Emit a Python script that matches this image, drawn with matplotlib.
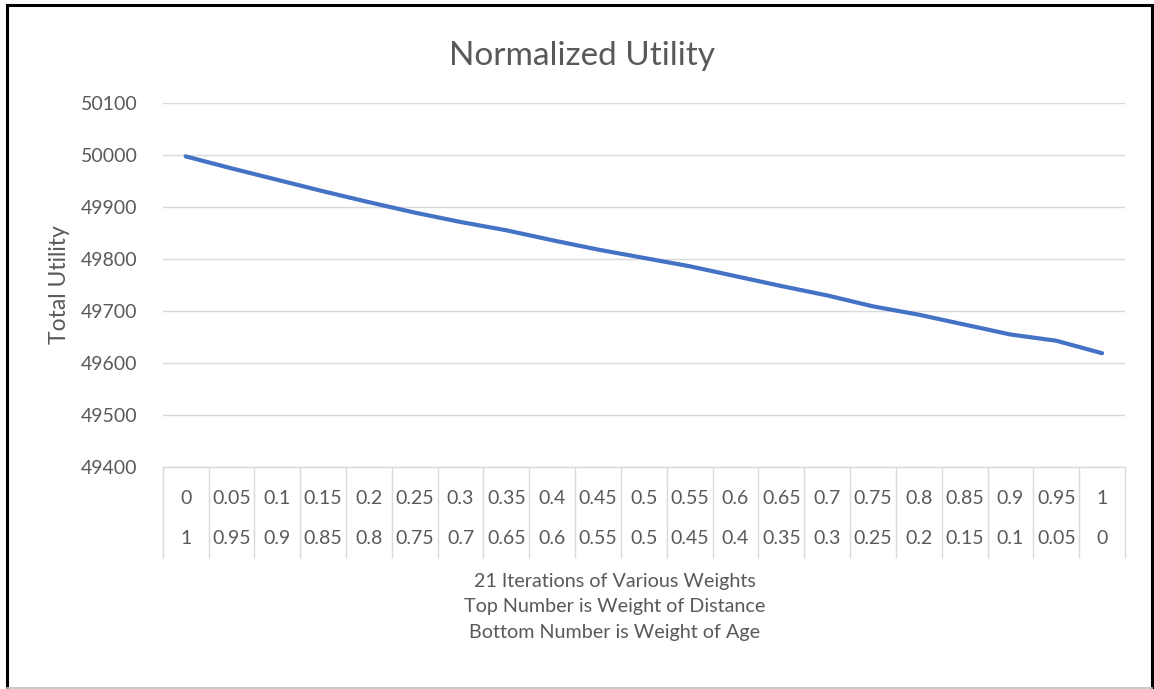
import matplotlib
matplotlib.use("Agg")
import matplotlib.pyplot as plt
from matplotlib.lines import Line2D
from matplotlib.ticker import FixedLocator

plt.rcParams['font.family'] = ['Lato', 'DejaVu Sans']

# ---- data ----
weight_distance = ["0", "0.05", "0.1", "0.15", "0.2", "0.25", "0.3", "0.35", "0.4", "0.45", "0.5",
                   "0.55", "0.6", "0.65", "0.7", "0.75", "0.8", "0.85", "0.9", "0.95", "1"]
weight_age = ["1", "0.95", "0.9", "0.85", "0.8", "0.75", "0.7", "0.65", "0.6", "0.55", "0.5",
              "0.45", "0.4", "0.35", "0.3", "0.25", "0.2", "0.15", "0.1", "0.05", "0"]
total_utility = [49997, 49974, 49952, 49930, 49909, 49889, 49871, 49855, 49836, 49818, 49802,
                 49786, 49767, 49748, 49730, 49709, 49693, 49674, 49655, 49643, 49619]
y_ticks = [49400, 49500, 49600, 49700, 49800, 49900, 50000, 50100]

title = "Normalized Utility"
y_label = "Total Utility"
x_label = "21 Iterations of Various Weights\nTop Number is Weight of Distance\nBottom Number is Weight of Age"

W, H = 1154, 689
fig = plt.figure(figsize=(W / 100, H / 100), dpi=100)
ax_left, ax_right, ax_top, ax_bottom = 162.7, 1125.0, 102.7, 467.3
ax = fig.add_axes([ax_left / W, 1 - ax_bottom / H, (ax_right - ax_left) / W, (ax_bottom - ax_top) / H])

text_color = "#595959"
grid_color = "#D9D9D9"

x = list(range(len(total_utility)))
ax.plot(x, total_utility, color="#4472C4", linewidth=3.0, solid_capstyle="round", zorder=3)

ax.set_xlim(-0.5, len(x) - 0.5)
ax.set_ylim(y_ticks[0], y_ticks[-1])
ax.set_yticks(y_ticks)
ax.yaxis.grid(True, color=grid_color, linewidth=1)
ax.set_axisbelow(True)
for s in ["top", "right", "left"]:
    ax.spines[s].set_visible(False)
ax.spines["bottom"].set_color(grid_color)
ax.spines["bottom"].set_linewidth(1)

ax.tick_params(axis="y", length=0, pad=18, labelsize=14, labelcolor=text_color)

# category table-style x axis
ax.set_xticks(x)
ax.set_xticklabels([f"{a}\n{b}" for a, b in zip(weight_distance, weight_age)])
ax.xaxis.set_minor_locator(FixedLocator([i - 0.5 for i in range(len(x) + 1)]))
ax.tick_params(axis="x", which="major", length=0, pad=16, labelsize=14, labelcolor=text_color)
ax.tick_params(axis="x", which="minor", length=65.5, width=1, color=grid_color, direction="out")
for lbl in ax.get_xticklabels():
    lbl.set_linespacing(2.7)

ax.set_xlabel(x_label, fontsize=14.2, color=text_color, linespacing=1.6)
ax.xaxis.set_label_coords((615 - ax_left) / (ax_right - ax_left), -(573 - ax_bottom) / (ax_bottom - ax_top))
ax.set_ylabel(y_label, fontsize=16.5, color=text_color)
ax.yaxis.set_label_coords(-(ax_left - 70) / (ax_right - ax_left), 0.5)
fig.text(582 / W, 1 - 56 / H, title, ha="center", va="center", fontsize=24, color=text_color)

# outer frame of the screenshot
fig.add_artist(Line2D([6.5 / W, 6.5 / W], [1 - 5 / H, 1 - 688 / H], color="black", lw=2.2, transform=fig.transFigure))
fig.add_artist(Line2D([6.5 / W, 1151.5 / W], [1 - 5 / H, 1 - 5 / H], color="black", lw=2.2, transform=fig.transFigure))
fig.add_artist(Line2D([1151.5 / W, 1151.5 / W], [1 - 5 / H, 1 - 688 / H], color="black", lw=2.2, transform=fig.transFigure))
fig.add_artist(Line2D([6.5 / W, 1151.5 / W], [1 - 687.5 / H, 1 - 687.5 / H], color="#BFBFBF", lw=1.2, transform=fig.transFigure))

fig.savefig("out.png", dpi=100)
